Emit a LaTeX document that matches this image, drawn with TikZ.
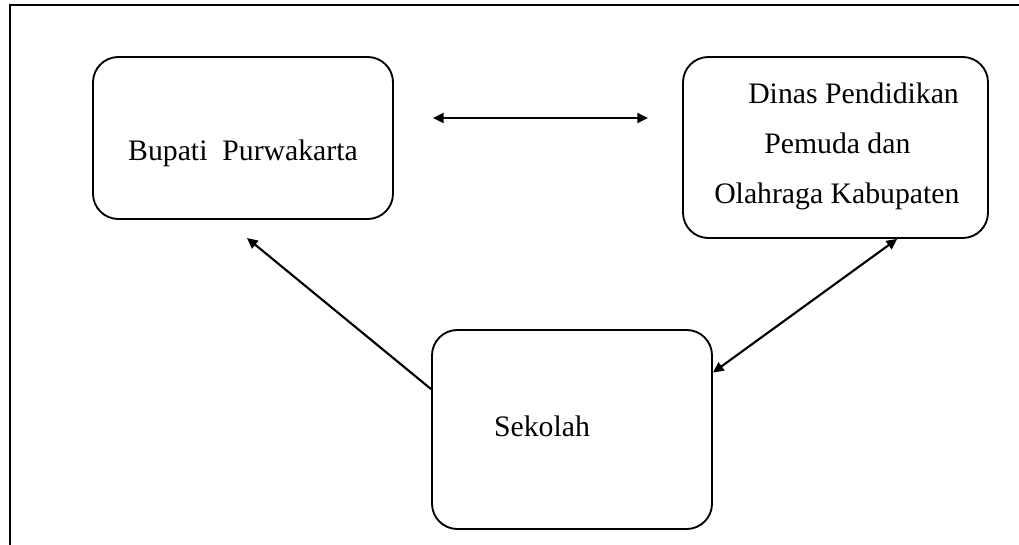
\documentclass[tikz,border=0pt]{standalone}
\usepackage{fontspec}
\setmainfont{Liberation Serif}
\usetikzlibrary{arrows.meta}

\begin{document}
\begin{tikzpicture}[x=0.75pt,y=0.75pt,yscale=-1,xscale=1,
  rrect/.style={draw, line width=1.4pt, rounded corners=19pt, inner sep=0pt},
  txt/.style={inner sep=0.75pt, font=\fontsize{22.3}{37.5}\selectfont},
  link/.style={line width=1.6pt, {Triangle[length=8pt,width=7.5pt]}-{Triangle[length=8pt,width=7.5pt]}},
  onelink/.style={line width=1.6pt, -{Triangle[length=8pt,width=7.5pt]}}]
\useasboundingbox (0,0) rectangle (1019,545);

%Frame
\draw [line width=1.6pt] (10,545) -- (10,5) -- (1019,5) ;

%Rounded Rect
\node [rrect, minimum width=225pt, minimum height=121.5pt] (bupati) at (243,138) {};
%Rounded Rect
\node [rrect, minimum width=228.75pt, minimum height=135.75pt] (dinas) at (835.5,147.5) {};
%Rounded Rect
\node [rrect, minimum width=210pt, minimum height=149.25pt] (sekolah) at (572,429.5) {};

% Text Node
\node [txt] (tbupati) at (243,153) {Bupati\ \ Purwakarta};
% Text Node
\node [txt, align=left, anchor=west] (tdinas) at (713,146) {\hspace*{25.5pt}Dinas Pendidikan\\ \hspace*{37.5pt}Pemuda dan\\ Olahraga Kabupaten};
% Text Node
\node [txt] (tsekolah) at (542,426) {Sekolah};

%Straight Lines
\coordinate (hl) at (433,118);
\coordinate (hr) at (648,118);
\draw [link] (hl) -- (hr) ;
%Straight Lines
\coordinate (bt) at (247,238);
\draw [onelink] (sekolah.164) -- (bt) ;
%Straight Lines
\draw [link] (sekolah.22) -- (dinas.-56) ;

\end{tikzpicture}
\end{document}
